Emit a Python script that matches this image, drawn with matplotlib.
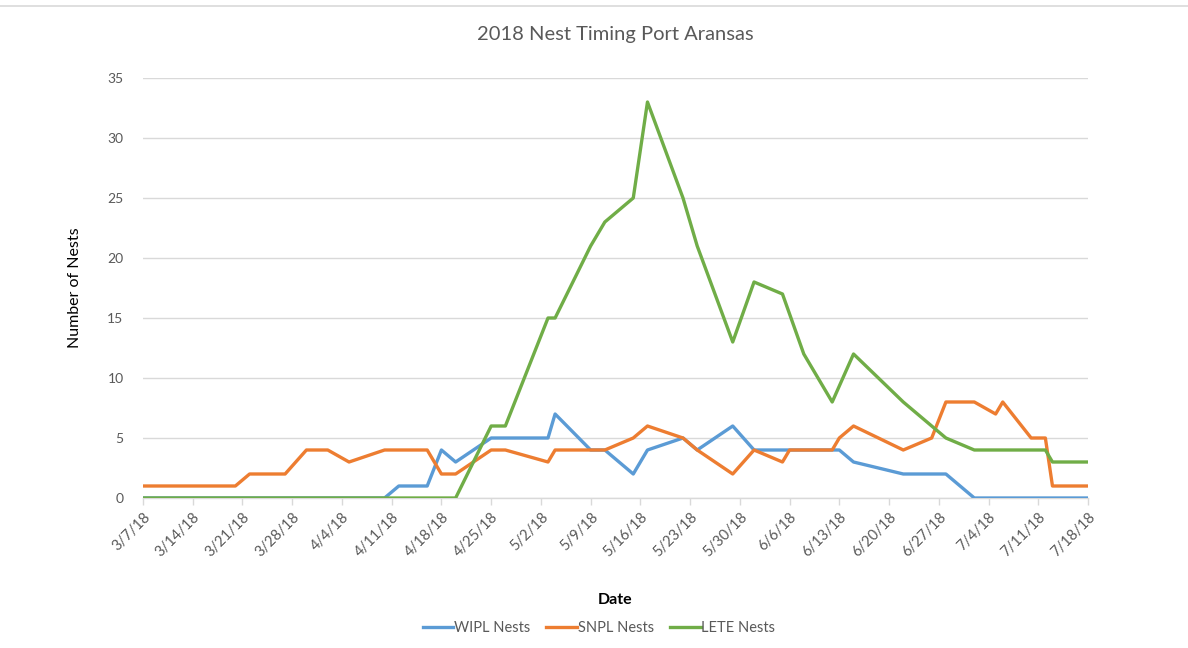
import matplotlib
matplotlib.use("Agg")
import matplotlib.pyplot as plt
from matplotlib.lines import Line2D
import pandas as pd

plt.rcParams["font.family"] = ["Lato", "DejaVu Sans"]

# Survey dates and nest counts per species
wipl_dates = ["3/7", "4/10", "4/12", "4/16", "4/18", "4/20", "4/25", "5/3", "5/4",
              "5/9", "5/11", "5/15", "5/17", "5/22", "5/24", "5/29", "6/1", "6/13",
              "6/15", "6/22", "6/28", "7/2", "7/18"]
wipl_nests = [0, 0, 1, 1, 4, 3, 5, 5, 7,
              4, 4, 2, 4, 5, 4, 6, 4, 4,
              3, 2, 2, 0, 0]

snpl_dates = ["3/7", "3/20", "3/22", "3/27", "3/30", "4/2", "4/5", "4/10", "4/16",
              "4/18", "4/20", "4/25", "4/27", "5/3", "5/4", "5/11", "5/15", "5/17",
              "5/22", "5/24", "5/29", "6/1", "6/5", "6/6", "6/12", "6/13", "6/15",
              "6/22", "6/26", "6/28", "7/2", "7/5", "7/6", "7/10", "7/12", "7/13", "7/18"]
snpl_nests = [1, 1, 2, 2, 4, 4, 3, 4, 4,
              2, 2, 4, 4, 3, 4, 4, 5, 6,
              5, 4, 2, 4, 3, 4, 4, 5, 6,
              4, 5, 8, 8, 7, 8, 5, 5, 1, 1]

lete_dates = ["3/7", "4/20", "4/25", "4/27", "5/3", "5/4", "5/9", "5/11", "5/15",
              "5/17", "5/22", "5/24", "5/29", "6/1", "6/5", "6/8", "6/12", "6/15",
              "6/22", "6/28", "7/2", "7/12", "7/13", "7/18"]
lete_nests = [0, 0, 6, 6, 15, 15, 21, 23, 25,
              33, 25, 21, 13, 18, 17, 12, 8, 12,
              8, 5, 4, 4, 3, 3]

series_names = ["WIPL Nests", "SNPL Nests", "LETE Nests"]
series_colors = ["#5B9BD5", "#ED7D31", "#70AD47"]

tick_start, tick_end = "3/7", "7/18"
y_ticks = [0, 5, 10, 15, 20, 25, 30, 35]


def to_dates(labels):
    return pd.to_datetime([f"2018/{d}" for d in labels], format="%Y/%m/%d")


fig = plt.figure(figsize=(11.88, 6.48), dpi=100)
ax = fig.add_axes([143 / 1188, 1 - 498 / 648, 945 / 1188, 420 / 648])

text_gray = "#595959"
grid_gray = "#D9D9D9"

for dates, vals, name, color in zip(
        [wipl_dates, snpl_dates, lete_dates],
        [wipl_nests, snpl_nests, lete_nests],
        series_names, series_colors):
    ax.plot(to_dates(dates), vals, color=color, lw=2.4, solid_joinstyle="round",
            solid_capstyle="round", label=name, zorder=3)

start, end = to_dates([tick_start, tick_end])
ticks = pd.date_range(start, end, freq="7D")
ax.set_xlim(start, end)
ax.set_xticks(ticks)
ax.set_xticklabels([f"{t.month}/{t.day}/18" for t in ticks], rotation=45,
                   ha="right", rotation_mode="anchor", fontsize=10.5, color=text_gray)

ax.set_ylim(0, 35)
ax.set_yticks(y_ticks)
ax.set_yticklabels([str(v) for v in y_ticks], fontsize=10, color=text_gray)
ax.tick_params(axis="y", length=0, pad=14)
ax.tick_params(axis="x", length=5, color=grid_gray, width=1, pad=4)

ax.grid(axis="y", color=grid_gray, lw=1)
ax.set_axisbelow(True)
for side in ["left", "right", "top"]:
    ax.spines[side].set_visible(False)
ax.spines["bottom"].set_color(grid_gray)
ax.spines["bottom"].set_linewidth(1)

ax.set_title("2018 Nest Timing Port Aransas", fontsize=14.5, color=text_gray, pad=27.5)
ax.set_xlabel("Date", fontsize=11.5, fontweight="bold", color="black", labelpad=24)
ax.set_ylabel("Number of Nests", fontsize=11.5, color="black", labelpad=18)

handles = [Line2D([0], [0], color=c, lw=2.4) for c in series_colors]
fig.legend(handles, series_names, loc="center", bbox_to_anchor=(599 / 1188, 1 - 628 / 648),
           ncol=3, frameon=False, fontsize=10.5, handlelength=2.1, handletextpad=0.05,
           columnspacing=1.1, labelcolor=text_gray)

# thin chart-area frame line along the top
fig.add_artist(Line2D([0, 1], [1 - 5.5 / 648] * 2, color="#D9D9D9", lw=1.2,
                      transform=fig.transFigure))

fig.savefig("out.png", dpi=100, facecolor="white")
